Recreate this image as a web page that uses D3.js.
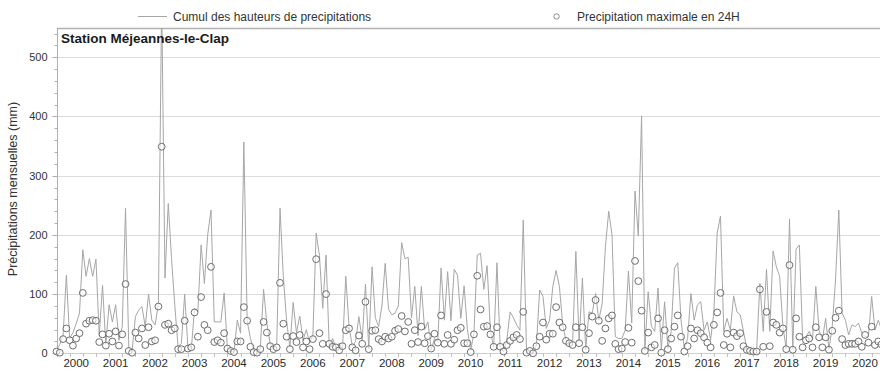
<!DOCTYPE html>
<html>
<head>
<meta charset="utf-8">
<script src="https://cdn.jsdelivr.net/npm/d3@7"></script>
<style>
  html, body { margin: 0; padding: 0; background: #fff; }
  svg { display: block; }
  text { font-family: "Liberation Sans", Arial, sans-serif; }
</style>
</head>
<body>
<svg id="chart" width="880" height="371"></svg>
<script>
// Years shown on the x axis
const years = d3.range(2000, 2021);

// Monthly cumulative precipitation (mm), Jan 2000 .. Dec 2020
const cumul = [
  5, 15, 30, 132, 25, 35, 50, 68, 175, 130, 160, 130,        // 2000
  159, 30, 115, 15, 82, 53, 82, 22, 45, 245, 8, 3,          // 2001
  62, 73, 79, 45, 100, 56, 48, 84, 600, 127, 253, 160,      // 2002
  80, 10, 17, 100, 8, 6, 76, 70, 183, 118, 200, 242,        // 2003
  53, 53, 53, 102, 8, 4, 2, 56, 34, 357, 55, 25,            // 2004
  5, 3, 8, 108, 50, 17, 8, 15, 245, 130, 55, 10,            // 2005
  86, 35, 63, 22, 40, 18, 30, 203, 165, 76, 166, 8,         // 2006
  25, 10, 17, 6, 130, 45, 12, 20, 62, 22, 117, 8,           // 2007
  146, 60, 45, 80, 152, 75, 65, 68, 80, 187, 160, 162,      // 2008
  60, 113, 30, 113, 40, 53, 6, 25, 20, 144, 56, 138,        // 2009
  55, 142, 132, 59, 114, 40, 5, 34, 166, 169, 108, 148,     // 2010
  39, 10, 153, 8, 3, 22, 70, 60, 48, 39, 225, 5,            // 2011
  1, 0, 14, 107, 96, 42, 56, 113, 140, 113, 48, 22,         // 2012
  17, 14, 172, 20, 127, 6, 70, 68, 101, 56, 84, 180,        // 2013
  240, 200, 28, 25, 25, 39, 139, 51, 274, 198, 401, 6,      // 2014
  104, 45, 37, 110, 6, 87, 8, 37, 144, 153, 56, 8,          // 2015
  25, 101, 56, 82, 87, 39, 53, 23, 70, 203, 232, 37,        // 2016
  59, 39, 97, 70, 65, 37, 8, 5, 4, 6, 118, 37,              // 2017
  142, 37, 173, 146, 130, 45, 8, 227, 7, 176, 183, 23,      // 2018
  28, 37, 23, 113, 39, 23, 59, 7, 45, 124, 242, 68,         // 2019
  56, 31, 48, 45, 51, 34, 28, 28, 96, 39, 56, 40            // 2020
];

// Maximum precipitation in 24 h for each month (mm)
const maxi24 = [
  3, 1, 24, 42, 22, 13, 25, 34, 102, 50, 55, 56,
  55, 19, 32, 13, 33, 20, 37, 13, 32, 117, 4, 1,
  35, 25, 42, 14, 44, 20, 22, 79, 349, 48, 50, 39,
  42, 7, 7, 55, 8, 10, 69, 28, 95, 48, 39, 146,
  19, 22, 18, 34, 8, 4, 2, 20, 20, 78, 55, 11,
  2, 1, 7, 53, 35, 12, 7, 10, 119, 50, 28, 7,
  29, 19, 31, 10, 20, 7, 24, 159, 34, 16, 100, 16,
  11, 10, 5, 12, 39, 42, 10, 5, 30, 16, 87, 7,
  38, 39, 24, 20, 28, 25, 28, 38, 41, 63, 37, 53,
  16, 39, 19, 45, 17, 29, 8, 33, 18, 64, 16, 31,
  16, 23, 39, 43, 17, 17, 2, 32, 131, 74, 45, 46,
  32, 11, 44, 11, 3, 14, 21, 27, 31, 24, 70, 1,
  4, 0, 12, 28, 52, 23, 33, 33, 78, 52, 44, 21,
  17, 14, 44, 17, 44, 6, 34, 62, 90, 55, 21, 42,
  59, 64, 16, 7, 8, 19, 43, 18, 156, 122, 72, 4,
  35, 10, 14, 59, 1, 39, 7, 25, 45, 64, 28, 3,
  12, 42, 25, 39, 34, 27, 18, 10, 48, 69, 102, 14,
  33, 10, 35, 29, 34, 12, 6, 4, 3, 3, 108, 11,
  70, 12, 52, 48, 35, 42, 7, 149, 6, 59, 28, 10,
  22, 25, 10, 44, 27, 10, 27, 6, 38, 60, 72, 24,
  14, 16, 16, 16, 20, 11, 31, 18, 45, 14, 20, 15
];

const yTicks = [0, 100, 200, 300, 400, 500];

const title = "Station Méjeannes-le-Clap";
const yLabel = "Précipitations mensuelles (mm)";
const legendLine = "Cumul des hauteurs de precipitations";
const legendCircle = "Precipitation maximale en 24H";

// ---------- layout ----------
const svg = d3.select("#chart");
const plotLeft = 57, plotRight = 880, plotTop = 28, plotBottom = 353;

const x = d3.scaleLinear().domain([0, 251]).range([56.5, 56.5 + 251 * 3.287]);
const y = d3.scaleLinear().domain([0, 500]).range([353.3, 57.3]);

// clip for line
svg.append("defs").append("clipPath").attr("id", "clip")
  .append("rect").attr("x", plotLeft - 5).attr("y", plotTop)
  .attr("width", plotRight - plotLeft + 10).attr("height", plotBottom - plotTop + 10);

// gridlines
svg.append("g").selectAll("line").data(yTicks.filter(d => d > 0)).join("line")
  .attr("x1", plotLeft).attr("x2", plotRight)
  .attr("y1", d => Math.round(y(d)) + 0.5).attr("y2", d => Math.round(y(d)) + 0.5)
  .attr("stroke", "#dcdcdc").attr("stroke-width", 1);

// top border
svg.append("line").attr("x1", plotLeft).attr("x2", plotRight)
  .attr("y1", plotTop + 0.5).attr("y2", plotTop + 0.5)
  .attr("stroke", "#b0b0b0").attr("stroke-width", 1.4);

// y axis with minor ticks
const yAxisG = svg.append("g").attr("transform", `translate(${plotLeft + 0.5},0)`);
yAxisG.append("line").attr("y1", plotTop).attr("y2", plotBottom + 1)
  .attr("stroke", "#b0b0b0");
yAxisG.selectAll("line.minor").data(d3.range(0, 541, 20)).join("line")
  .attr("class", "minor")
  .attr("x1", d => d % 100 === 0 ? -5 : -3).attr("x2", 0)
  .attr("y1", d => Math.round(y(d)) + 0.5).attr("y2", d => Math.round(y(d)) + 0.5)
  .attr("stroke", "#b0b0b0");
yAxisG.selectAll("text").data(yTicks).join("text")
  .attr("x", -10).attr("y", d => y(d)).attr("dy", "0.35em")
  .attr("text-anchor", "end").attr("font-size", 11).attr("fill", "#333")
  .text(d => d);

// x axis
const xAxisG = svg.append("g");
xAxisG.append("line").attr("x1", plotLeft).attr("x2", plotRight)
  .attr("y1", plotBottom + 0.5).attr("y2", plotBottom + 0.5)
  .attr("stroke", "#cfcfcf");
xAxisG.selectAll("line.tick").data(d3.range(0, 252, 4)).join("line")
  .attr("class", "tick")
  .attr("x1", d => Math.round(x(d)) + 0.5).attr("x2", d => Math.round(x(d)) + 0.5)
  .attr("y1", plotBottom).attr("y2", plotBottom + 4)
  .attr("stroke", "#c0c0c0");
xAxisG.selectAll("text").data(years).join("text")
  .attr("x", d => x((d - 2000) * 12 + 6)).attr("y", 367)
  .attr("text-anchor", "middle").attr("font-size", 11.5).attr("fill", "#2a2a2a")
  .text(d => d);

// y label
svg.append("text")
  .attr("transform", "translate(17,189) rotate(-90)")
  .attr("text-anchor", "middle").attr("font-size", 12.5).attr("fill", "#333")
  .text(yLabel);

// data line
const line = d3.line().x((d, i) => x(i)).y(d => y(d));
svg.append("path").datum(cumul)
  .attr("clip-path", "url(#clip)")
  .attr("d", line).attr("fill", "none")
  .attr("stroke", "#a6a6a6").attr("stroke-width", 1);

// circles
svg.append("g").selectAll("circle").data(maxi24).join("circle")
  .attr("cx", (d, i) => x(i)).attr("cy", d => y(d)).attr("r", 3.4)
  .attr("fill", "#fff").attr("fill-opacity", 0.6)
  .attr("stroke", "#6e6e6e").attr("stroke-width", 1);

// title
svg.append("text").attr("x", 61).attr("y", 43)
  .attr("font-family", "Lato, 'Open Sans', sans-serif")
  .attr("font-weight", "bold").attr("font-size", 13.5).attr("fill", "#1a1a1a")
  .text(title);

// legend
svg.append("line").attr("x1", 138).attr("x2", 167).attr("y1", 16.5).attr("y2", 16.5)
  .attr("stroke", "#a6a6a6").attr("stroke-width", 1);
svg.append("text").attr("x", 173).attr("y", 20.5)
  .attr("font-size", 12).attr("fill", "#333").text(legendLine);
svg.append("circle").attr("cx", 556.5).attr("cy", 16.5).attr("r", 2.7)
  .attr("fill", "#fff").attr("stroke", "#888");
svg.append("text").attr("x", 577).attr("y", 20.5)
  .attr("font-size", 12).attr("fill", "#333").text(legendCircle);
</script>
</body>
</html>
